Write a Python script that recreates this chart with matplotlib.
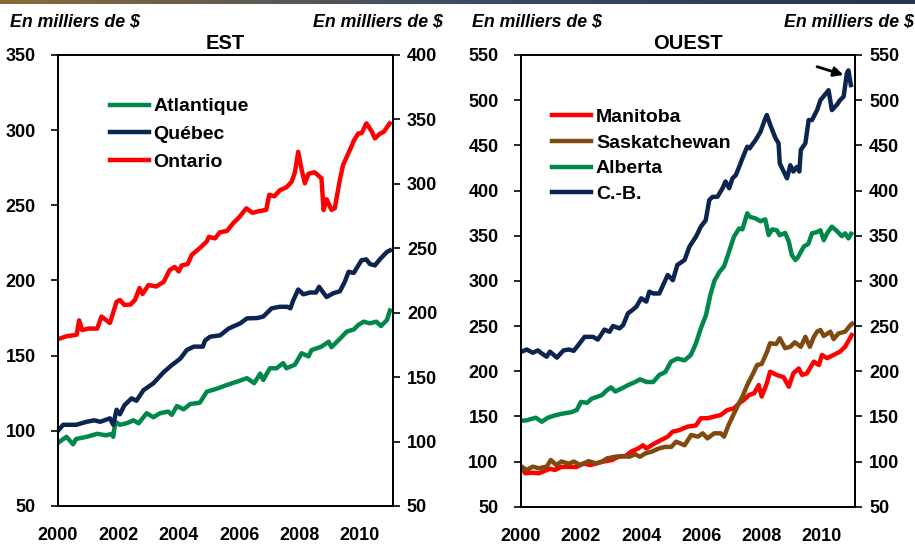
import matplotlib

matplotlib.use("Agg")
import matplotlib.pyplot as plt
import numpy as np
from matplotlib.colors import LinearSegmentedColormap

# Prix moyens des maisons, en milliers de $
ATLANTIQUE = [
    (2000.0, 92), (2000.28, 96), (2000.5, 91), (2000.6, 94.6), (2000.95, 96), (2001.3, 98),
    (2001.6, 97), (2001.78, 98), (2001.83, 96), (2001.9, 106), (2002.05, 104), (2002.27, 105),
    (2002.5, 107), (2002.67, 105), (2002.94, 111.7), (2003.16, 109), (2003.38, 111.7),
    (2003.65, 112.8), (2003.77, 110.6), (2003.94, 116.5), (2004.16, 114.3), (2004.38, 117.8),
    (2004.7, 118.7), (2004.93, 126), (2005.26, 128), (2005.6, 130.5), (2005.93, 132.7),
    (2006.26, 135), (2006.5, 131.7), (2006.7, 138), (2006.8, 133.8), (2007.02, 141.6),
    (2007.24, 141.6), (2007.46, 145), (2007.57, 141.6), (2007.85, 144), (2008.07, 151.6),
    (2008.3, 149.5), (2008.4, 153.7), (2008.73, 156), (2008.97, 159.3), (2009.06, 155.6),
    (2009.3, 160.4), (2009.57, 166), (2009.8, 167.4), (2009.95, 170.4), (2010.13, 172.6),
    (2010.33, 171.5), (2010.55, 172.6), (2010.7, 169.7), (2010.9, 173.7), (2011.0, 180),
]
QUEBEC = [
    (2000.0, 100), (2000.17, 104), (2000.6, 104), (2000.95, 106), (2001.2, 107), (2001.4, 106),
    (2001.72, 108.3), (2001.83, 104), (2001.94, 114), (2002.05, 111), (2002.2, 117),
    (2002.44, 121.6), (2002.6, 120), (2002.83, 127), (2003.16, 131.6), (2003.5, 139),
    (2003.77, 143.7), (2004.05, 148), (2004.27, 153.8), (2004.5, 156), (2004.8, 156),
    (2004.87, 160), (2005.04, 162.6), (2005.37, 163.5), (2005.65, 168), (2006.04, 171.5),
    (2006.26, 174.8), (2006.6, 175), (2006.8, 176), (2007.08, 181.5), (2007.35, 182.5),
    (2007.6, 182.5), (2007.7, 181.5), (2007.8, 187), (2007.96, 194), (2008.13, 190.8),
    (2008.35, 192), (2008.55, 192), (2008.65, 195.8), (2008.9, 189), (2009.12, 191.5),
    (2009.34, 192.8), (2009.5, 199), (2009.63, 205.8), (2009.8, 205), (2009.95, 210),
    (2010.06, 213.5), (2010.22, 214), (2010.33, 211), (2010.5, 210), (2010.66, 214),
    (2010.9, 219), (2011.0, 220),
]
ONTARIO = [
    (2000.0, 161), (2000.3, 163), (2000.5, 163.5), (2000.62, 164), (2000.7, 173.5), (2000.8, 167),
    (2001.0, 168), (2001.3, 168), (2001.44, 176), (2001.72, 171.7), (2001.94, 185.8),
    (2002.05, 187), (2002.2, 183.7), (2002.4, 184), (2002.55, 187), (2002.7, 195), (2002.8, 191),
    (2003.0, 197), (2003.25, 196), (2003.5, 199), (2003.7, 207), (2003.87, 209), (2004.0, 206),
    (2004.1, 210), (2004.3, 211), (2004.43, 217), (2004.7, 221.6), (2004.93, 226), (2005.0, 229),
    (2005.2, 228), (2005.36, 232), (2005.6, 233), (2005.8, 238), (2006.0, 242), (2006.24, 248),
    (2006.45, 245), (2006.63, 246), (2006.9, 247), (2007.0, 257), (2007.17, 256), (2007.35, 260),
    (2007.57, 262), (2007.74, 265.6), (2007.85, 272), (2007.96, 285.6), (2008.07, 274),
    (2008.18, 264.6), (2008.3, 271), (2008.5, 272), (2008.73, 268), (2008.8, 246.8),
    (2008.9, 254), (2009.06, 247), (2009.17, 248), (2009.34, 267), (2009.45, 277),
    (2009.72, 289), (2009.8, 293), (2009.95, 297.8), (2010.06, 298), (2010.22, 304.5),
    (2010.4, 299), (2010.5, 294.5), (2010.66, 297.5), (2010.8, 299), (2010.99, 304.5),
]
MANITOBA = [
    (2000.03, 92.4), (2000.15, 87), (2000.37, 87.6), (2000.6, 87), (2000.75, 89), (2000.97, 92),
    (2001.13, 90.6), (2001.35, 94), (2001.63, 94), (2001.86, 94), (2002.08, 98), (2002.3, 96),
    (2002.52, 98), (2002.75, 100), (2003.03, 101.7), (2003.25, 105.3), (2003.47, 106),
    (2003.67, 111), (2003.9, 114.4), (2004.06, 118), (2004.17, 114.4), (2004.44, 120),
    (2004.66, 123.8), (2004.88, 127.5), (2005.04, 133), (2005.26, 134.7), (2005.54, 138.6),
    (2005.82, 140), (2005.98, 147.9), (2006.2, 147.9), (2006.42, 149.7), (2006.64, 151.5),
    (2006.86, 157), (2007.08, 158.8), (2007.25, 164.5), (2007.41, 168.2), (2007.58, 173.6),
    (2007.75, 175.5), (2007.9, 184.7), (2008.0, 171.9), (2008.17, 186.5), (2008.28, 199.4),
    (2008.5, 195.8), (2008.73, 193.2), (2008.9, 182.8), (2009.05, 197.6), (2009.23, 203),
    (2009.34, 195.8), (2009.5, 197.6), (2009.73, 210.5), (2009.9, 206.8), (2010.0, 218),
    (2010.17, 214.4), (2010.39, 218), (2010.6, 221.6), (2010.77, 227), (2010.99, 240),
]
SASKATCHEWAN = [
    (2000.03, 94.3), (2000.2, 90.6), (2000.4, 94.3), (2000.6, 92.5), (2000.86, 94.3),
    (2001.0, 101.7), (2001.18, 96), (2001.35, 100), (2001.6, 97.6), (2001.76, 100), (2001.98, 96),
    (2002.25, 100.4), (2002.5, 98), (2002.7, 100), (2002.87, 103.5), (2003.14, 105.3),
    (2003.36, 106), (2003.6, 105.3), (2003.8, 108), (2003.96, 105.3), (2004.14, 109),
    (2004.36, 111), (2004.58, 114.4), (2004.8, 116.2), (2005.0, 116.2), (2005.16, 122),
    (2005.44, 118), (2005.66, 129.4), (2005.88, 127.5), (2006.04, 131.2), (2006.2, 125.6),
    (2006.42, 131.2), (2006.64, 131.2), (2006.75, 127.5), (2006.9, 140.4), (2007.03, 149.6),
    (2007.19, 160.7), (2007.36, 171.8), (2007.52, 184.7), (2007.69, 195.8), (2007.85, 206.9),
    (2008.0, 208), (2008.18, 221.6), (2008.28, 230.9), (2008.48, 230), (2008.6, 236.4),
    (2008.78, 225.4), (2008.95, 227), (2009.1, 232), (2009.3, 227), (2009.45, 238),
    (2009.6, 227), (2009.73, 238), (2009.84, 243.7), (2009.95, 245.6), (2010.06, 239),
    (2010.28, 243.7), (2010.39, 235.5), (2010.55, 241.8), (2010.77, 243.7), (2010.94, 250.7),
    (2011.0, 252.5),
]
ALBERTA = [
    (2000.03, 145), (2000.2, 145.7), (2000.5, 148.5), (2000.7, 144), (2000.9, 148.5),
    (2001.13, 151), (2001.35, 152.8), (2001.68, 154.6), (2001.86, 157), (2002.0, 166),
    (2002.2, 165), (2002.36, 169.6), (2002.52, 171.4), (2002.7, 173.6), (2002.86, 179),
    (2003.0, 182), (2003.14, 177.5), (2003.36, 181), (2003.57, 184.7), (2003.8, 188),
    (2003.96, 191), (2004.18, 188), (2004.4, 188), (2004.6, 195.8), (2004.8, 199),
    (2004.99, 210.5), (2005.2, 214), (2005.44, 212), (2005.65, 218), (2005.82, 231),
    (2005.98, 247.5), (2006.15, 262), (2006.3, 285), (2006.43, 300), (2006.6, 310),
    (2006.75, 316), (2006.86, 326.7), (2007.08, 349), (2007.25, 358), (2007.36, 357),
    (2007.52, 374.8), (2007.6, 371), (2007.8, 369), (2007.96, 366), (2008.12, 368),
    (2008.23, 350.7), (2008.35, 357), (2008.5, 356), (2008.6, 350.5), (2008.78, 353),
    (2008.9, 343.4), (2009.0, 328.6), (2009.12, 323), (2009.2, 326), (2009.4, 338),
    (2009.55, 341), (2009.67, 352.6), (2009.84, 354), (2009.95, 356), (2010.06, 345),
    (2010.17, 352.6), (2010.33, 360), (2010.5, 355), (2010.66, 349.5), (2010.77, 352.6),
    (2010.88, 347), (2010.97, 352),
]
CB = [
    (2000.03, 221.6), (2000.2, 224), (2000.4, 220.4), (2000.57, 223), (2000.7, 219.6),
    (2000.86, 216), (2000.97, 221.6), (2001.2, 215), (2001.42, 223), (2001.6, 224),
    (2001.76, 222.5), (2001.96, 231), (2002.12, 238), (2002.4, 238), (2002.56, 235),
    (2002.78, 246), (2002.95, 243.6), (2003.06, 250), (2003.28, 247.4), (2003.4, 251),
    (2003.56, 264), (2003.72, 268), (2003.84, 271.4), (2004.0, 280.7), (2004.17, 277),
    (2004.27, 288), (2004.4, 286), (2004.6, 286), (2004.88, 306.5), (2005.05, 300.7),
    (2005.2, 317.6), (2005.44, 323), (2005.6, 337.8), (2005.82, 349), (2005.98, 360),
    (2006.14, 367), (2006.26, 389.5), (2006.37, 393), (2006.53, 393), (2006.7, 402.5),
    (2006.8, 410), (2006.92, 402.5), (2007.03, 413.5), (2007.14, 417), (2007.25, 426),
    (2007.36, 435.6), (2007.52, 448.5), (2007.6, 446.7), (2007.8, 456), (2007.96, 465),
    (2008.1, 478), (2008.17, 483.6), (2008.28, 473), (2008.46, 457.8), (2008.56, 452.3),
    (2008.6, 430), (2008.73, 421), (2008.84, 413.5), (2008.95, 428), (2009.05, 421),
    (2009.16, 426), (2009.25, 421), (2009.3, 445), (2009.45, 452.3), (2009.56, 478),
    (2009.67, 478), (2009.84, 489), (2009.95, 500), (2010.22, 511), (2010.33, 489),
    (2010.5, 495), (2010.6, 500), (2010.72, 504), (2010.83, 530), (2010.88, 533),
    (2010.96, 516.7),
]

YEAR_TICKS = [2000, 2002, 2004, 2006, 2008, 2010]
EST_LEFT_TICKS = [50, 100, 150, 200, 250, 300, 350]
EST_RIGHT_TICKS = [50, 100, 150, 200, 250, 300, 350, 400]
OUEST_TICKS = [50, 100, 150, 200, 250, 300, 350, 400, 450, 500, 550]

GREEN = "#00874A"
NAVY = "#0B2550"
RED = "#FF0000"
BROWN = "#7F4A10"

FONT = ["Liberation Sans", "DejaVu Sans"]
plt.rcParams["font.family"] = FONT
plt.rcParams["font.weight"] = "bold"
plt.rcParams["axes.linewidth"] = 1.3


def style_axes(ax, twin, left_ticks, right_ticks, left_lim, right_lim):
    ax.set_xlim(2000, 2011.1)
    ax.set_ylim(*left_lim)
    twin.set_ylim(*right_lim)
    ax.set_yticks(left_ticks)
    twin.set_yticks(right_ticks)
    ax.set_xticks(YEAR_TICKS)
    ax.tick_params(axis="x", length=0, pad=15, labelsize=13)
    ax.tick_params(axis="y", direction="out", length=5, width=1.2, pad=11, labelsize=13)
    twin.tick_params(axis="y", direction="out", length=5, width=1.2, pad=5, labelsize=13)
    for lab in ax.get_xticklabels() + ax.get_yticklabels() + twin.get_yticklabels():
        lab.set_fontweight("bold")


fig = plt.figure(figsize=(9.15, 5.44), dpi=100)

# bandeau décoratif en haut
band = fig.add_axes([0, 0.993, 1, 0.007])
band.imshow(np.linspace(0, 1, 200)[None, :], aspect="auto",
            cmap=LinearSegmentedColormap.from_list("b", ["#8a6a3a", "#3b4c66", "#22344f"]))
band.axis("off")

# --- EST ---
ax1 = fig.add_axes([0.0634, 0.0699, 0.3661, 0.829])
tw1 = ax1.twinx()
style_axes(ax1, tw1, EST_LEFT_TICKS, EST_RIGHT_TICKS, (50, 350), (50, 400))
for name, series, color in (("Atlantique", ATLANTIQUE, GREEN), ("Québec", QUEBEC, NAVY), ("Ontario", ONTARIO, RED)):
    xs, ys = zip(*series)
    ax1.plot(xs, ys, color=color, lw=3.2, label=name, solid_joinstyle="round")
ax1.set_title("EST", fontsize=14.5, fontweight="bold", pad=4)
ax1.legend(loc="upper left", bbox_to_anchor=(0.155, 0.905), frameon=False, fontsize=14,
           handlelength=2.0, handletextpad=0.25, labelspacing=0.52, borderpad=0, borderaxespad=0)

# --- OUEST ---
ax2 = fig.add_axes([0.5691, 0.0686, 0.3654, 0.8303])
tw2 = ax2.twinx()
style_axes(ax2, tw2, OUEST_TICKS, OUEST_TICKS, (50, 550), (50, 550))
for name, series, color in (("Manitoba", MANITOBA, RED), ("Saskatchewan", SASKATCHEWAN, BROWN),
                            ("Alberta", ALBERTA, GREEN), ("C.-B.", CB, NAVY)):
    xs, ys = zip(*series)
    ax2.plot(xs, ys, color=color, lw=3.2, label=name, solid_joinstyle="round")
ax2.set_title("OUEST", fontsize=14.5, fontweight="bold", pad=4)
ax2.legend(loc="upper left", bbox_to_anchor=(0.094, 0.882), frameon=False, fontsize=14,
           handlelength=2.0, handletextpad=0.25, labelspacing=0.42, borderpad=0, borderaxespad=0)
ax2.annotate("", xy=(2010.8, 527), xytext=(2009.75, 538),
             arrowprops=dict(arrowstyle="-|>", color="black", lw=2, mutation_scale=14))

# unités
for x, ha in ((0.011, "left"), (0.484, "right"), (0.516, "left"), (0.999, "right")):
    fig.text(x, 0.96, "En milliers de $", ha=ha, va="center", fontsize=12.8,
             fontweight="bold", fontstyle="italic")

fig.savefig("out.png", dpi=100)
